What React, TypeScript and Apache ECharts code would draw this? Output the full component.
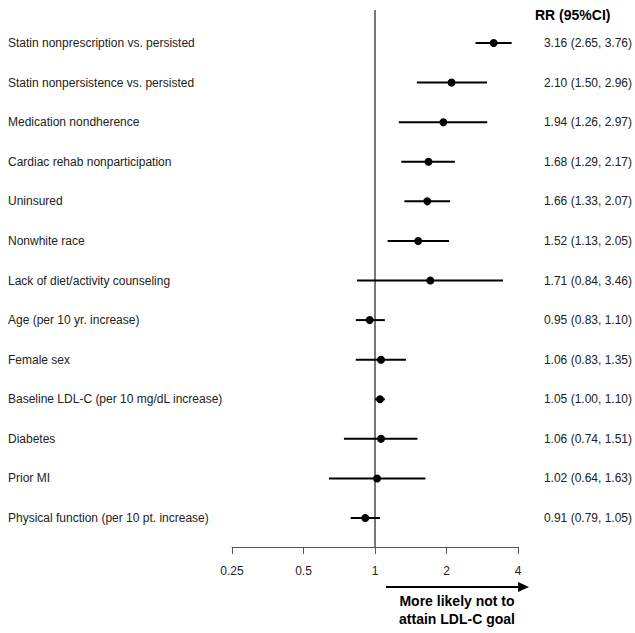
import React, { useEffect, useRef } from "react";
import * as echarts from "echarts";

const labels = [
  "Statin nonprescription vs. persisted",
  "Statin nonpersistence vs. persisted",
  "Medication nondherence",
  "Cardiac rehab nonparticipation",
  "Uninsured",
  "Nonwhite race",
  "Lack of diet/activity counseling",
  "Age (per 10 yr. increase)",
  "Female sex",
  "Baseline LDL-C (per 10 mg/dL increase)",
  "Diabetes",
  "Prior MI",
  "Physical function (per 10 pt. increase)",
];
const estimates = [3.16, 2.10, 1.94, 1.68, 1.66, 1.52, 1.71, 0.95, 1.06, 1.05, 1.06, 1.02, 0.91];
const lowers = [2.65, 1.50, 1.26, 1.29, 1.33, 1.13, 0.84, 0.83, 0.83, 1.00, 0.74, 0.64, 0.79];
const uppers = [3.76, 2.96, 2.97, 2.17, 2.07, 2.05, 3.46, 1.10, 1.35, 1.10, 1.51, 1.63, 1.05];
const xTicks = [0.25, 0.5, 1, 2, 4];

const FONT = "'Liberation Sans', Arial, Helvetica, sans-serif";

export default function App() {
  const ref = useRef<HTMLDivElement>(null);
  useEffect(() => {
    if (!ref.current) return;
    const chart = echarts.init(ref.current, undefined, { renderer: "svg" });
    const rrText = estimates.map(
      (e, i) => `${e.toFixed(2)} (${lowers[i].toFixed(2)}, ${uppers[i].toFixed(2)})`
    );
    const data = estimates.map((e, i) => [e, lowers[i], uppers[i], i]);
    const rowTop = 43 - 39.583 / 2;
    const rowBottom = 633 - (518 + 39.583 / 2);
    chart.setOption({
      animation: false,
      textStyle: { fontFamily: FONT },
      grid: [
        { left: 232, right: 117, top: 10, bottom: 86 },
        { left: 232, right: 117, top: rowTop, bottom: rowBottom, show: false },
      ],
      xAxis: [
        {
          type: "log",
          logBase: 2,
          min: 0.25,
          max: 4,
          gridIndex: 0,
          position: "bottom",
          axisLine: { show: true, onZero: false, lineStyle: { color: "#555", width: 1 } },
          axisTick: { show: true, length: 7, lineStyle: { color: "#555" } },
          splitLine: { show: false },
          axisLabel: {
            margin: 18,
            fontSize: 12,
            color: "#222",
            fontFamily: FONT,
            formatter: (v: number) => {
              const m = xTicks.find((t) => Math.abs(t - v) < 1e-6);
              return m !== undefined ? String(m) : "";
            },
          },
        },
        { type: "value", gridIndex: 1, show: false, min: 0, max: 1 },
      ],
      yAxis: [
        {
          type: "value",
          gridIndex: 0,
          inverse: true,
          min: -0.8337,
          max: 12.7326,
          show: false,
        },
        {
          type: "category",
          gridIndex: 1,
          inverse: true,
          position: "left",
          data: labels,
          axisLine: { show: false },
          axisTick: { show: false },
          axisLabel: {
            margin: 224,
            align: "left",
            fontSize: 12,
            color: "#222",
            fontFamily: FONT,
          },
        },
        {
          type: "category",
          gridIndex: 1,
          inverse: true,
          position: "right",
          data: rrText,
          axisLine: { show: false },
          axisTick: { show: false },
          axisLabel: {
            margin: 27,
            align: "left",
            fontSize: 12,
            color: "#222",
            fontFamily: FONT,
          },
        },
      ],
      series: [
        {
          type: "line",
          xAxisIndex: 0,
          yAxisIndex: 0,
          data: [],
          z: 1,
          markLine: {
            silent: true,
            symbol: ["none", "none"],
            label: { show: false },
            lineStyle: { color: "#777", width: 2, type: "solid" },
            data: [{ xAxis: 1 }],
          },
        },
        {
          type: "custom",
          xAxisIndex: 0,
          yAxisIndex: 0,
          z: 5,
          data,
          encode: { x: [0, 1, 2], y: 3 },
          renderItem: (_params: any, api: any) => {
            const y = api.value(3);
            const lo = api.coord([api.value(1), y]);
            const hi = api.coord([api.value(2), y]);
            const pt = api.coord([api.value(0), y]);
            return {
              type: "group",
              children: [
                {
                  type: "line",
                  shape: { x1: lo[0], y1: lo[1], x2: hi[0], y2: hi[1] },
                  style: { stroke: "#000", lineWidth: 2 },
                },
                {
                  type: "circle",
                  shape: { cx: pt[0], cy: pt[1], r: 4 },
                  style: { fill: "#000" },
                },
              ],
            };
          },
        },
      ],
      graphic: [
        {
          type: "text",
          left: 535,
          top: 8,
          style: {
            text: "RR (95%CI)",
            font: `bold 14px ${FONT}`,
            fill: "#000",
          },
        },
        {
          type: "line",
          shape: { x1: 386, y1: 587, x2: 520, y2: 587 },
          style: { stroke: "#000", lineWidth: 2 },
        },
        {
          type: "polygon",
          shape: { points: [[518, 582], [529, 587], [518, 592]] },
          style: { fill: "#000" },
        },
        {
          type: "text",
          x: 457,
          y: 601,
          style: {
            text: "More likely not to",
            font: `bold 14px ${FONT}`,
            fill: "#000",
            align: "center",
            verticalAlign: "middle",
          },
        },
        {
          type: "text",
          x: 457,
          y: 619,
          style: {
            text: "attain LDL-C goal",
            font: `bold 14px ${FONT}`,
            fill: "#000",
            align: "center",
            verticalAlign: "middle",
          },
        },
      ],
    });
    return () => chart.dispose();
  }, []);
  return <div ref={ref} style={{ width: 635, height: 633, position: "absolute", left: 0, top: 0 }} />;
}
